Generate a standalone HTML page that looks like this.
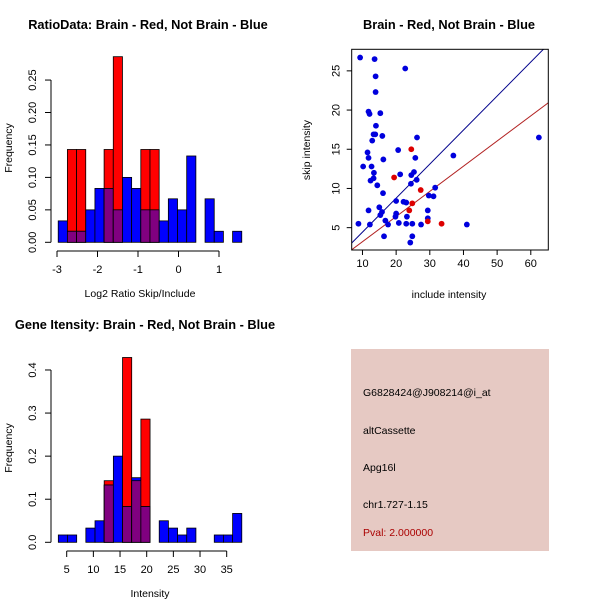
<!DOCTYPE html>
<html><head><meta charset="utf-8"><style>
body{margin:0;background:#fff}
svg{display:block;font-family:"Liberation Sans",sans-serif}
</style></head><body>
<svg id="s" width="600" height="600" viewBox="0 0 600 600">
<rect width="600" height="600" fill="#fff"/>
<text x="148" y="29" font-size="12.8" font-weight="bold" text-anchor="middle">RatioData: Brain - Red, Not Brain - Blue</text>
<text x="449" y="29" font-size="12.8" font-weight="bold" text-anchor="middle">Brain - Red, Not Brain - Blue</text>
<text x="145" y="329" font-size="12.8" font-weight="bold" text-anchor="middle">Gene Itensity: Brain - Red, Not Brain - Blue</text>
<g id="g1"></g>
<g id="g2"></g>
<g id="g3"></g>
<g>
<rect x="351" y="349" width="198" height="202" fill="#e6c9c3"/>
<g font-size="10.5">
<text x="363" y="396">G6828424@J908214@i_at</text>
<text x="363" y="434">altCassette</text>
<text x="363" y="471">Apg16l</text>
<text x="363" y="508">chr1.727-1.15</text>
<text x="363" y="536" fill="#aa0000">Pval: 2.000000</text>
</g></g>
</svg>
<script>
// Ratio histogram data
const ratioStart = -2.97, ratioBinW = 0.2266;
const ratioBlue = [0.033,0.017,0.017,0.05,0.083,0.083,0.05,0.1,0.083,0.05,0.05,0.033,0.067,0.05,0.133,0,0.067,0.017,0,0.017];
const ratioRed  = [0,0.143,0.143,0,0,0.143,0.286,0,0,0.143,0.143,0,0,0,0,0,0,0,0,0];
const ratioXTicks = [-3,-2,-1,0,1];
const ratioYTicks = ["0.00","0.05","0.10","0.15","0.20","0.25"];
// Intensity histogram data
const intStart = 3.43, intBinW = 1.72;
const intBlue = [0.017,0.017,0,0.033,0.05,0.133,0.2,0.083,0.15,0.083,0,0.05,0.033,0.017,0.033,0,0,0.017,0.017,0.067];
const intRed  = [0,0,0,0,0,0.143,0,0.429,0.143,0.286,0,0,0,0,0,0,0,0,0,0];
const intXTicks = [5,10,15,20,25,30,35];
const intYTicks = ["0.0","0.1","0.2","0.3","0.4"];
// Scatter data
const blueX = [9.3,13.6,22.7,13.9,13.9,11.8,12.1,15.3,14,13.3,13.8,15.9,26.2,12.9,11.5,20.6,11.8,16.2,25.7,37,62.4,10.2,12.7,13.4,13.3,21.2,25.3,24.5,12.4,26.1,14.4,24.4,31.6,16.1,29.7,31.1,20,22.2,23,15,11.8,15.8,29.4,15.3,20,19.8,23.2,29.4,16.8,8.8,12.2,17.6,20.8,23,24.8,27.4,41,16.4,24.8,24.2];
const blueY = [26.7,26.5,25.3,24.3,22.3,19.8,19.5,19.6,18,16.9,16.9,16.7,16.5,16.1,14.6,14.9,13.9,13.7,13.9,14.2,16.5,12.8,12.8,12,11.3,11.8,12.1,11.7,11,11.1,10.4,10.6,10.1,9.4,9.1,9,8.4,8.3,8.2,7.6,7.2,7,7.2,6.6,6.8,6.4,6.4,6.2,5.9,5.5,5.4,5.4,5.6,5.5,5.5,5.4,5.4,3.9,3.9,3.1];
const redX = [24.5,19.4,27.3,24.8,23.9,29.4,33.5];
const redY = [15,11.4,9.8,8.1,7.2,5.8,5.5];
const blueSlope = 0.434, blueIntercept = 0.09;
const redSlope = 0.321, redIntercept = 0;
const scXTicks = [10,20,30,40,50,60];
const scYTicks = [5,10,15,20,25];

const NS = "http://www.w3.org/2000/svg";
function mk(parent, tag, attrs, txt){
  const e = document.createElementNS(NS, tag);
  for (const k in attrs) e.setAttribute(k, attrs[k]);
  if (txt !== undefined) e.textContent = txt;
  parent.appendChild(e); return e;
}

function hist(g, o){
  const xs = v => o.x0 + (v - o.v0) * o.kx;
  const ys = v => o.y0 - v * o.ky;
  for (let i = 0; i < o.blue.length; i++){
    const a = xs(o.start + i*o.bw), b = xs(o.start + (i+1)*o.bw);
    const r = o.red[i], bl = o.blue[i], m = Math.min(r, bl);
    if (r > 0){
      const e = mk(g,'rect',{x:a,y:ys(r),width:b-a,height:ys(0)-ys(r),fill:'#ff0000',stroke:'#000','stroke-width':0.8});
      
      
    }
    if (bl > 0){
      const e = mk(g,'rect',{x:a,y:ys(bl),width:b-a,height:ys(0)-ys(bl),fill:'#0000ff',stroke:'#000','stroke-width':0.8});
      
      
    }
    if (m > 0){
      const e = mk(g,'rect',{x:a,y:ys(m),width:b-a,height:ys(0)-ys(m),fill:'#800080',stroke:'#000','stroke-width':0.8});
      
      
    }
  }
  const xt = o.xticks;
  mk(g,'line',{x1:xs(xt[0]),x2:xs(xt[xt.length-1]),y1:o.axY,y2:o.axY,stroke:'#000'});
  xt.forEach(t=>{
    mk(g,'line',{x1:xs(t),x2:xs(t),y1:o.axY,y2:o.axY+6,stroke:'#000'});
    const e = mk(g,'text',{x:xs(t),y:o.axY+22,'font-size':11,'text-anchor':'middle'},String(t));
    
    
  });
  const yt = o.yticks;
  mk(g,'line',{x1:o.axX,x2:o.axX,y1:ys(+yt[0]),y2:ys(+yt[yt.length-1]),stroke:'#000'});
  yt.forEach(t=>{
    const y = ys(+t);
    mk(g,'line',{x1:o.axX-6,x2:o.axX,y1:y,y2:y,stroke:'#000'});
    const e = mk(g,'text',{x:o.axX-15,y:y,'font-size':11,'text-anchor':'middle',transform:`rotate(-90 ${o.axX-15} ${y})`},t);
    
    
  });
  const xl = mk(g,'text',{x:o.xlX,y:o.xlY,'font-size':10.5,'text-anchor':'middle'},o.xlabel);
  
  
  const yl = mk(g,'text',{x:12,y:o.ylY,'font-size':10.5,'text-anchor':'middle',transform:`rotate(-90 12 ${o.ylY})`},'Frequency');
  
  
}

hist(document.getElementById('g1'),{x0:178.5,v0:0,kx:40.5,y0:242.3,ky:649,start:ratioStart,bw:ratioBinW,
  blue:ratioBlue,red:ratioRed,xticks:ratioXTicks,yticks:ratioYTicks,axY:251,axX:51,xlabel:'Log2 Ratio Skip/Include',xlX:140,xlY:297,ylY:148});
hist(document.getElementById('g3'),{x0:66.7,v0:5,kx:5.333,y0:542.3,ky:430.8,start:intStart,bw:intBinW,
  blue:intBlue,red:intRed,xticks:intXTicks,yticks:intYTicks,axY:551,axX:51,xlabel:'Intensity',xlX:150,xlY:597,ylY:448});

(function(){
  const g = document.getElementById('g2');
  const xmin=6.8,xmax=65.2,ymin=2.15,ymax=27.75;
  const L=351.7,R=548.3,T=49.3,B=250;
  const xs=v=>L+(v-xmin)/(xmax-xmin)*(R-L);
  const ys=v=>B-(v-ymin)/(ymax-ymin)*(B-T);
  mk(g,'clipPath',{id:'cp'}); mk(g.lastChild,'rect',{x:L,y:T,width:R-L,height:B-T});
  const lb = mk(g,'line',{x1:xs(xmin),y1:ys(blueSlope*xmin+blueIntercept),x2:xs(xmax),y2:ys(blueSlope*xmax+blueIntercept),stroke:'#00008b','stroke-width':1,'clip-path':'url(#cp)'});
  
  
  const lr = mk(g,'line',{x1:xs(xmin),y1:ys(redSlope*xmin+redIntercept),x2:xs(xmax),y2:ys(redSlope*xmax+redIntercept),stroke:'#b22222','stroke-width':1,'clip-path':'url(#cp)'});
  
  
  blueX.forEach((x,i)=>{
    const c = mk(g,'circle',{cx:xs(x),cy:ys(blueY[i]),r:2.9,fill:'#0000dd'});
    
    
  });
  redX.forEach((x,i)=>{
    const c = mk(g,'circle',{cx:xs(x),cy:ys(redY[i]),r:2.9,fill:'#dd0000'});
    
    
  });
  mk(g,'rect',{x:L,y:T,width:R-L,height:B-T,fill:'none',stroke:'#000'});
  scXTicks.forEach(t=>{
    mk(g,'line',{x1:xs(t),x2:xs(t),y1:B,y2:B+5,stroke:'#000'});
    const e = mk(g,'text',{x:xs(t),y:B+17,'font-size':11,'text-anchor':'middle'},String(t));
    
    
  });
  scYTicks.forEach(t=>{
    const y=ys(t);
    mk(g,'line',{x1:L-5,x2:L,y1:y,y2:y,stroke:'#000'});
    const e = mk(g,'text',{x:L-12,y:y,'font-size':11,'text-anchor':'middle',transform:`rotate(-90 ${L-12} ${y})`},String(t));
    
    
  });
  const xl = mk(g,'text',{x:449,y:298,'font-size':10.5,'text-anchor':'middle'},'include intensity');
  
  
  const yl = mk(g,'text',{x:310,y:150,'font-size':10.5,'text-anchor':'middle',transform:'rotate(-90 310 150)'},'skip intensity');
  
  
})();
</script>
</body></html>
